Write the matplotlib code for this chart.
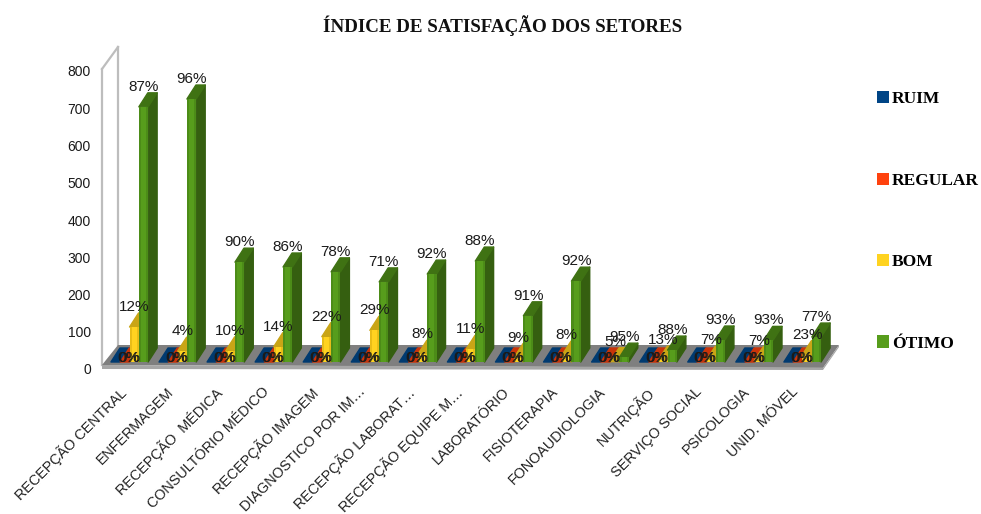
import matplotlib
matplotlib.use("Agg")
import matplotlib.pyplot as plt
from matplotlib.patches import Polygon, Patch
from matplotlib.transforms import Affine2D, IdentityTransform

categories = ["RECEPÇÃO CENTRAL", "ENFERMAGEM", "RECEPÇÃO  MÉDICA", "CONSULTÓRIO MÉDICO",
              "RECEPÇÃO IMAGEM", "DIAGNOSTICO POR IM…", "RECEPÇÃO LABORAT…", "RECEPÇÃO EQUIPE M…",
              "LABORATÓRIO", "FISIOTERAPIA", "FONOAUDIOLOGIA", "NUTRIÇÃO",
              "SERVIÇO SOCIAL", "PSICOLOGIA", "UNID. MÓVEL"]
ruim = [0] * 15
regular = [0] * 15
bom = [94, 29, 30, 41, 68, 85, 21, 34, 12, 19, 1, 5, 5, 4, 20]
otimo = [685, 706, 268, 255, 242, 215, 236, 271, 124, 217, 13, 32, 59, 58, 67]
pct_ruim = ["0%"] * 15
pct_regular = ["0%"] * 15
pct_bom = ["12%", "4%", "10%", "14%", "22%", "29%", "8%", "11%", "9%", "8%", "5%", "13%", "7%", "7%", "23%"]
pct_otimo = ["87%", "96%", "90%", "86%", "78%", "71%", "92%", "88%", "91%", "92%", "95%", "88%", "93%", "93%", "77%"]
series = ["RUIM", "REGULAR", "BOM", "ÓTIMO"]
yticks = [0, 100, 200, 300, 400, 500, 600, 700, 800]

front = ["#004586", "#ff420e", "#ffd320", "#579d1c"]
front_edge = ["#004586", "#e03a0c", "#e8bd18", "#4c8c18"]
side = ["#00305c", "#b02d09", "#b8960f", "#355f10"]
top = ["#003a70", "#c93409", "#c9a516", "#3f7213"]

W, H = 981, 514
fig = plt.figure(figsize=(W / 100, H / 100), dpi=100)
ax = fig.add_axes([102 / W, (H - 369) / H, 721 / W, 298 / H])
ax.set_xlim(-0.5, 14.5)
ax.set_ylim(0, 800)
ax.patch.set_alpha(0)
for s in ax.spines.values():
    s.set_visible(False)

sans = "Liberation Sans"
serif = "Liberation Serif"
ink = "#1a1a1a"

ax.set_yticks(yticks)
ax.set_yticklabels([str(v) for v in yticks], family=sans, fontsize=10, color=ink)
ax.tick_params(axis="y", length=0, pad=8)
ax.set_xticks(range(15))
ax.set_xticklabels(categories, family=sans, fontsize=10.4, color="#222222",
                   rotation=45, ha="right", rotation_mode="anchor")
ax.tick_params(axis="x", length=0, pad=13)
for lab in ax.get_xticklabels():
    lab.set_transform(lab.get_transform() + Affine2D().translate(-8, 2.5))


def pt(x, v, ox=0, oy=0):
    """Data point plus a depth offset in pixels, as display coordinates."""
    px, py = ax.transData.transform((x, v))
    return (px + ox, py + oy)


def poly(points, color, z, lw=0.0, edge=None, join="miter"):
    ax.add_patch(Polygon(points, closed=True, facecolor=color, edgecolor=edge or color,
                         linewidth=lw, transform=IdentityTransform(), zorder=z,
                         joinstyle=join, clip_on=False))


# walls and floor (16 px right, 24 px up for the chart depth)
DX, DY = 16, 24
wall = "#bdbdbd"
for a, b in [(pt(-0.5, 0, 0, 4), pt(-0.5, 800, 0, 2)), (pt(-0.5, 800, 0, 2), pt(-0.5, 800, DX, DY)),
             (pt(-0.5, 800, DX, DY), pt(-0.5, 0, DX, DY))]:
    ax.plot([a[0], b[0]], [a[1], b[1]], color=wall, lw=1.6, transform=IdentityTransform(),
            clip_on=False, zorder=1)
poly([pt(-0.5, 0, 0, 4), pt(14.5, 0, 0, 1), pt(14.5, 0, DX, DY), pt(-0.5, 0, DX, DY)], "#7f7f7f", 2)
poly([pt(-0.5, 0, 0, 0), pt(14.5, 0, 0, -1), pt(14.5, 0, 0, 1.5), pt(-0.5, 0, 0, 4)], "#a6a6a6", 2.1)
poly([pt(14.5, 0, 0, 1), pt(14.5, 0, DX, DY), pt(14.5, 0, DX, DY - 2), pt(14.5, 0, 0, -1)], "#a6a6a6", 2.1)

# bars: base plane lies 3.5 px right and 7 px above the axis plane
BW = 9.3 / 48.07
shift = Affine2D().translate(3.5, 7) + IdentityTransform()
SX, SY = 9, 14
z = 3.0
for i in range(15):
    vals = [ruim[i], regular[i], bom[i], otimo[i]]
    for k, v in enumerate(vals):
        x0 = i + (k - 2) * BW
        x1 = x0 + BW
        if v > 0:
            poly([pt(x1, 0, 3.5, 7), pt(x1, 0, 3.5 + SX, 7 + SY), pt(x1, v, 3.5 + SX, 7 + SY),
                  pt(x1, v, 3.5, 7)], side[k], z, lw=1.0, join="round")
        poly([pt(x0, v, 3.5, 7), pt(x1, v, 3.5, 7), pt(x1, v, 3.5 + SX, 7 + SY),
              pt(x0, v, 3.5 + SX, 7 + SY)], top[k], z + 0.01, lw=1.0, join="round")
        if v > 0:
            ax.bar(x0 + BW / 2, v, BW, color=front_edge[k], linewidth=0, zorder=z + 0.02,
                   transform=ax.transData + shift, clip_on=False)
            ax.bar(x0 + BW / 2, v, BW * 0.55, color=front[k], linewidth=0, zorder=z + 0.03,
                   transform=ax.transData + shift, clip_on=False)
        z += 0.05

# data labels
for i in range(15):
    groups = [(ruim[i], pct_ruim[i], -1.5), (regular[i], pct_regular[i], -0.5),
              (bom[i], pct_bom[i], 0.5), (otimo[i], pct_otimo[i], 1.5)]
    for k, (v, lab, off) in enumerate(groups):
        x, y = pt(i, v, 3.5, 7)
        x += off * BW * 48.07
        if v == 0:
            x = pt(i, 0, 3.5, 7)[0] + (-1.5 if k == 0 else -0.5)
            y += 3.5
        else:
            y += 20
        ax.text(x, y, lab, transform=IdentityTransform(), family=sans, fontsize=11, color=ink,
                ha="center", va="center", zorder=20, clip_on=False)

fig.text(503 / W, 1 - 26 / H, "ÍNDICE DE SATISFAÇÃO DOS SETORES", family=serif, weight="bold",
         fontsize=13.7, ha="center", va="center", color="#111111")

handles = [Patch(facecolor=c, edgecolor="none", label=s) for c, s in zip(front, series)]
leg = fig.legend(handles=handles, loc="upper left", bbox_to_anchor=(872 / W, 1 - 86 / H),
                 bbox_transform=fig.transFigure, frameon=False, handlelength=0.7, handleheight=0.7,
                 handletextpad=0.15, labelspacing=3.76, borderpad=0.3, borderaxespad=0,
                 prop={"family": serif, "weight": "bold", "size": 12.5})

fig.savefig("out.png", dpi=100)
